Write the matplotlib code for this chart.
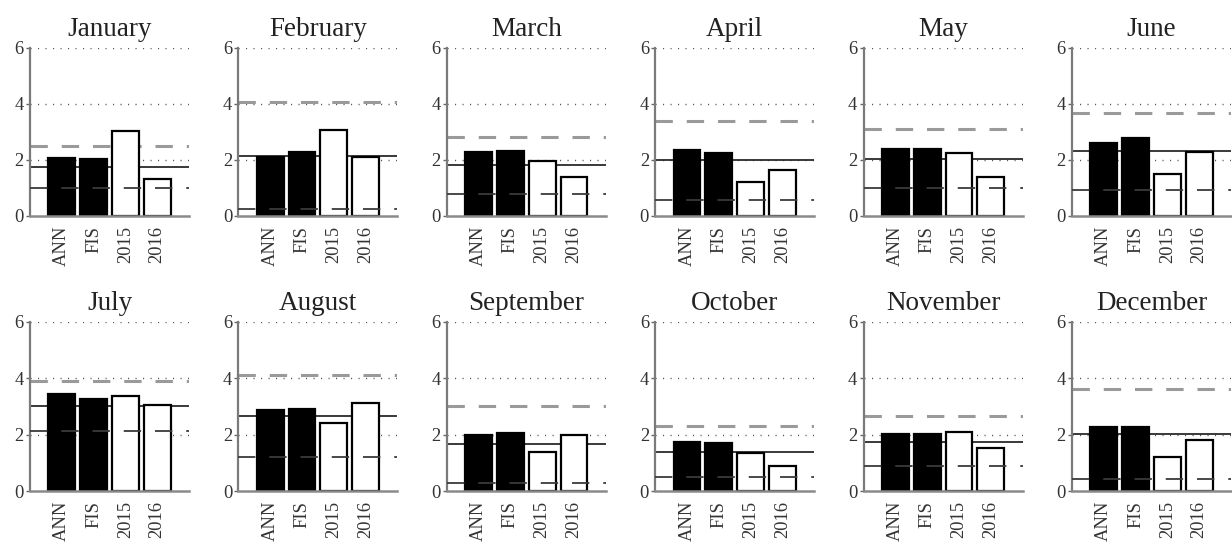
import matplotlib
matplotlib.use("Agg")
import matplotlib.pyplot as plt
import numpy as np

plt.rcParams["font.family"] = ["Liberation Serif", "DejaVu Serif"]
plt.rcParams["lines.scale_dashes"] = False

months = ["January", "February", "March", "April", "May", "June",
          "July", "August", "September", "October", "November", "December"]
categories = ["ANN", "FIS", "2015", "2016"]

ann = [2.08, 2.12, 2.30, 2.36, 2.40, 2.62, 3.43, 2.86, 1.99, 1.74, 2.02, 2.27]
fis = [2.02, 2.28, 2.32, 2.26, 2.38, 2.77, 3.27, 2.90, 2.05, 1.70, 2.02, 2.27]
y2015 = [3.04, 3.07, 1.98, 1.21, 2.24, 1.49, 3.37, 2.41, 1.40, 1.34, 2.09, 1.20]
y2016 = [1.31, 2.10, 1.41, 1.64, 1.39, 2.27, 3.04, 3.12, 1.99, 0.87, 1.54, 1.81]

upper = [2.50, 4.08, 2.83, 3.38, 3.10, 3.69, 3.92, 4.12, 3.02, 2.31, 2.67, 3.62]
mean = [1.75, 2.15, 1.83, 2.00, 2.05, 2.33, 3.03, 2.66, 1.66, 1.39, 1.75, 2.02]
lower = [1.01, 0.25, 0.78, 0.58, 0.99, 0.93, 2.13, 1.20, 0.27, 0.51, 0.87, 0.42]

fig = plt.figure(figsize=(12.32, 5.51), dpi=100)

W, H = 1232.0, 551.0
col_left = [30 + i * 208.4 for i in range(6)]
ax_w = 159
row_bottom = [216, 491]
row_top = [48, 322]

x = np.arange(1, 5)
dash = (12.5, 10.0)

for k, month in enumerate(months):
    r, c = divmod(k, 6)
    left = col_left[c] / W
    bottom = 1 - row_bottom[r] / H
    height = (row_bottom[r] - row_top[r]) / H
    ax = fig.add_axes([left, bottom, ax_w / W, height])

    # dotted grid
    for g in (2, 4, 6):
        ax.axhline(g, color="#555555", lw=1.0, linestyle=(0, (0.8, 4.6)), zorder=1)

    # reference band: upper, mean, lower
    ax.axhline(upper[k], color="#9a9a9a", lw=2.2, dashes=dash, zorder=1.5)
    ax.axhline(mean[k], color="#2a2a2a", lw=1.3, zorder=1.6)

    vals = [ann[k], fis[k], y2015[k], y2016[k]]
    faces = ["black", "black", "white", "white"]
    ax.bar(x, vals, width=0.84, color=faces, edgecolor="black", linewidth=1.6, zorder=2)

    ax.axhline(lower[k], color="#3a3a3a", lw=1.3, dashes=dash, zorder=3)

    ax.set_xlim(0, 5)
    ax.set_ylim(0, 6)
    ax.set_yticks([0, 2, 4, 6])
    ax.set_yticklabels(["0", "2", "4", "6"], fontsize=13.3, color="#333333")
    ax.set_xticks(x)
    ax.set_xticklabels(categories, rotation=90, fontsize=13.3, color="#333333")
    ax.tick_params(axis="x", length=0, pad=7)
    ax.tick_params(axis="y", length=3, width=1.0, color="#666666", pad=1.5)

    for s in ("top", "right"):
        ax.spines[s].set_visible(False)
    ax.spines["left"].set_color("#7a7a7a")
    ax.spines["left"].set_linewidth(1.6)
    ax.spines["bottom"].set_color("#8a8a8a")
    ax.spines["bottom"].set_linewidth(1.8)

    ax.set_title(month, fontsize=19.5, color="#222222", pad=9)

fig.savefig("out.png", dpi=100)
